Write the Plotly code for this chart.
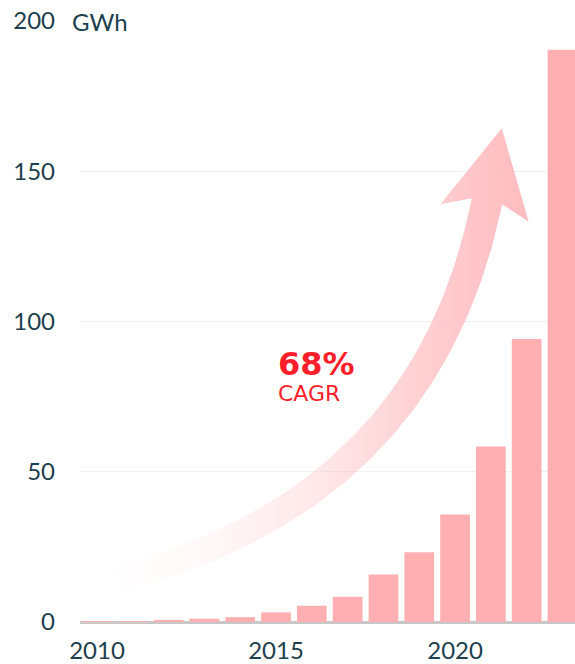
import numpy as np
import plotly.graph_objects as go

years = [2010, 2011, 2012, 2013, 2014, 2015, 2016, 2017, 2018, 2019, 2020, 2021, 2022, 2023]
gwh = [0.2, 0.3, 0.7, 1.1, 1.6, 3.2, 5.4, 8.4, 15.8, 23.2, 35.8, 58.4, 94.2, 190.4]
y_ticks = [0, 50, 100, 150, 200]
x_ticks = [2010, 2015, 2020]
cagr_label = "68%"
cagr_sub = "CAGR"
unit_label = "GWh"

# layout geometry
FIG_W, FIG_H = 575, 664
M_L, M_R, M_T, M_B = 80, 0, 21, 38
X0, X1 = 2009.525, 2023.35
Y0, Y1 = 0, 200
PW = FIG_W - M_L - M_R
PH = FIG_H - M_T - M_B

def d2p(x, y):
    return (M_L + (x - X0) / (X1 - X0) * PW, M_T + (Y1 - y) / (Y1 - Y0) * PH)

def p2d(px, py):
    return (X0 + (px - M_L) / PW * (X1 - X0), Y1 - (py - M_T) / PH * (Y1 - Y0))

# decorative growth arrow (quadratic bezier, in data units)
arrow_tail = (2010.45, 14.0)
arrow_ctrl = (2019.19, 40.0)
arrow_end = (2020.89, 140.0)

P0 = np.array(d2p(*arrow_tail))
C = np.array(d2p(*arrow_ctrl))
P2 = np.array(d2p(*arrow_end))
t = np.linspace(0, 1, 80)
pts = ((1 - t) ** 2)[:, None] * P0 + (2 * t * (1 - t))[:, None] * C + (t ** 2)[:, None] * P2
tan = (2 * (1 - t))[:, None] * (C - P0) + (2 * t)[:, None] * (P2 - C)
tan = tan / np.linalg.norm(tan, axis=1)[:, None]
nrm = np.stack([-tan[:, 1], tan[:, 0]], axis=1)  # perpendicular
half = 13 + 2.5 * t
left = pts - nrm * half[:, None]
right = pts + nrm * half[:, None]
d = tan[-1]
n = nrm[-1]
tip = P2 + 75 * d
barb_a = P2 - 12 * d + 45 * n
barb_b = P2 - 12 * d - 45 * n
outline = np.vstack([left, [barb_b], [tip], [barb_a], right[::-1], [left[0]]])
ax_, ay_ = zip(*[p2d(px, py) for px, py in outline])

fig = go.Figure()
fig.add_trace(go.Scatter(
    x=list(ax_), y=list(ay_), mode="lines", fill="toself",
    line=dict(width=0, color="rgba(0,0,0,0)"),
    fillgradient=dict(
        type="horizontal",
        start=min(ax_), stop=max(ax_),
        colorscale=[
            [0.0, "rgba(255,178,182,0.0)"],
            [0.25, "rgba(255,178,182,0.10)"],
            [0.5, "rgba(255,178,182,0.30)"],
            [0.75, "rgba(255,178,182,0.62)"],
            [1.0, "rgba(255,178,182,0.88)"],
        ],
    ),
    hoverinfo="skip", showlegend=False,
))

fig.add_trace(go.Bar(
    x=years, y=gwh, marker=dict(color="#FFAFB2", line=dict(width=0)),
    showlegend=False,
))

font_family = "Lato, 'Open Sans', sans-serif"
txt = "#1d3f4e"
red = "#FF1F2A"

fig.update_layout(
    width=FIG_W, height=FIG_H,
    margin=dict(l=M_L, r=M_R, t=M_T, b=M_B, pad=0),
    paper_bgcolor="white", plot_bgcolor="white",
    bargap=0.17,
    font=dict(family=font_family, color=txt),
    xaxis=dict(
        range=[X0, X1], tickvals=x_ticks, ticktext=[str(v) for v in x_ticks],
        showgrid=False, zeroline=False, showline=False, ticks="",
        tickfont=dict(size=24, color=txt), ticklabelstandoff=12,
    ),
    yaxis=dict(
        range=[Y0, Y1], tickvals=y_ticks, ticktext=[str(v) for v in y_ticks],
        showgrid=True, gridcolor="#f0f0f0", gridwidth=1,
        zeroline=True, zerolinecolor="#c8c8c8", zerolinewidth=3,
        showline=False, ticks="",
        tickfont=dict(size=24, color=txt), ticklabelstandoff=24,
    ),
    annotations=[
        dict(x=(68 - M_L) / PW, xref="paper", y=200, yref="y", text=unit_label,
             showarrow=False, xanchor="left", yanchor="middle",
             font=dict(size=24, color=txt), bgcolor="white", borderpad=3),
        dict(x=p2d(276, 0)[0], xref="x", y=p2d(0, 366)[1], yref="y", text="<b>" + cagr_label + "</b>",
             showarrow=False, xanchor="left", yanchor="middle",
             font=dict(size=32, color=red, family="DejaVu Sans")),
        dict(x=p2d(276, 0)[0], xref="x", y=p2d(0, 396)[1], yref="y", text=cagr_sub,
             showarrow=False, xanchor="left", yanchor="middle",
             font=dict(size=22, color=red, family="DejaVu Sans")),
    ],
)

fig.write_html("out.html", config={"displayModeBar": False},
               post_script="document.body.style.margin='0px';document.body.style.padding='0px';")
